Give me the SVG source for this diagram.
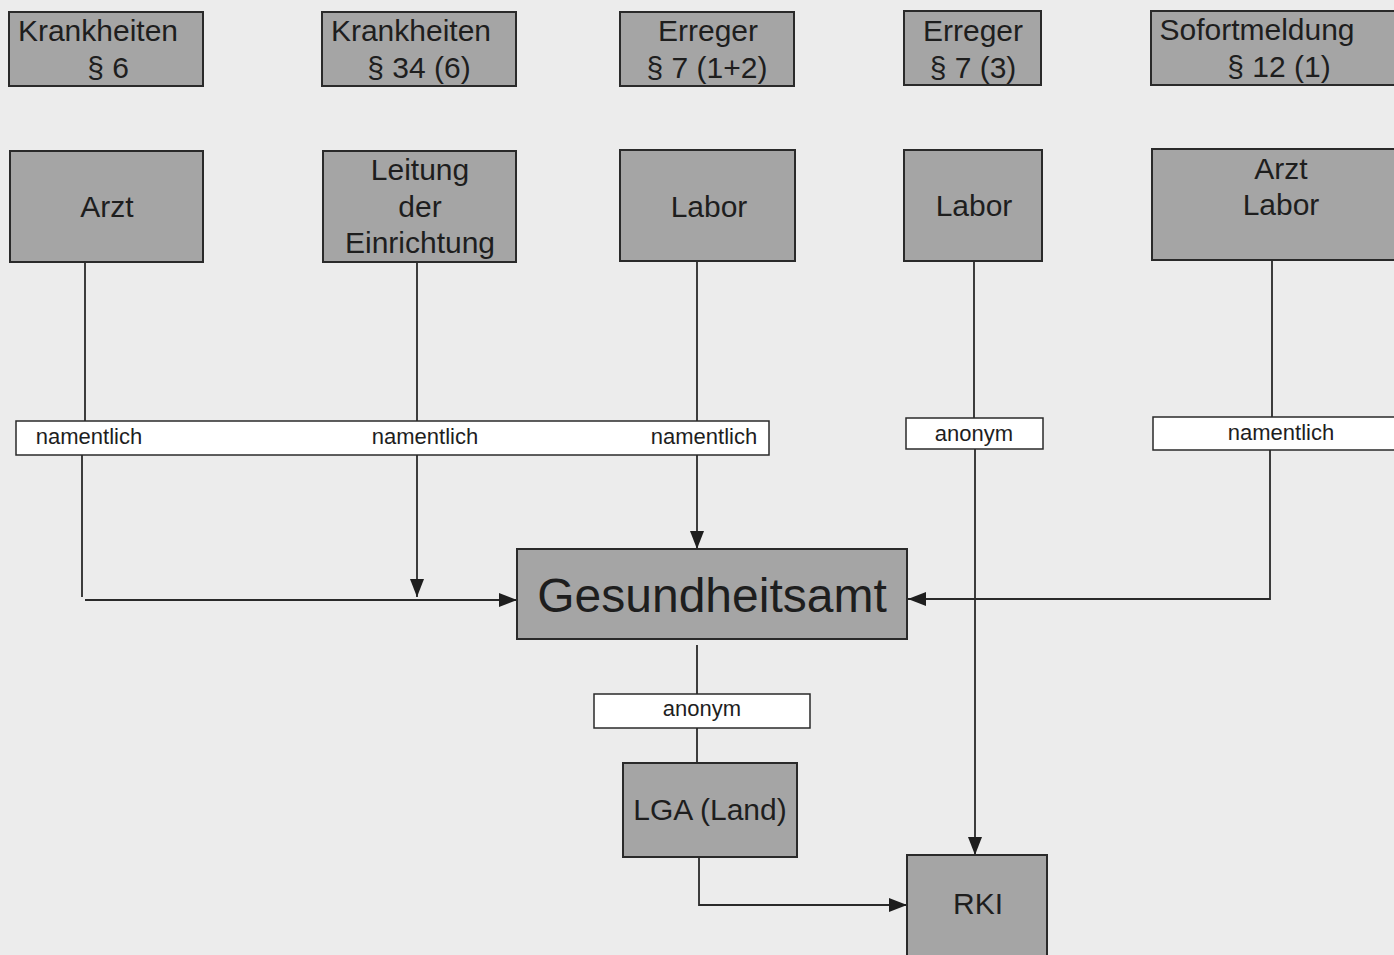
<svg xmlns="http://www.w3.org/2000/svg" width="1394" height="955" viewBox="0 0 1394 955">
<style>
.box{fill:#a5a5a5;stroke:#2a2a2a;stroke-width:2}
.lbl{fill:#ffffff;stroke:#2a2a2a;stroke-width:1.5}
.t{font-family:"Liberation Sans",Arial,sans-serif;font-size:30px;fill:#1e1e1e;text-anchor:middle}
.s{font-family:"Liberation Sans",Arial,sans-serif;font-size:22px;fill:#1e1e1e;text-anchor:middle}
.big{font-family:"Liberation Sans",Arial,sans-serif;font-size:48px;fill:#1e1e1e;text-anchor:middle}
.ln{fill:none;stroke:#2a2a2a;stroke-width:1.8}
</style>
<defs>
<marker id="arr" viewBox="0 0 18 14" refX="18" refY="7" markerWidth="18" markerHeight="14" markerUnits="userSpaceOnUse" orient="auto">
<path d="M0,0 L18,7 L0,14 Z" fill="#1e1e1e"/>
</marker>
</defs>
<rect width="1394" height="955" fill="#ececec"/>

<g id="connectors">
<line class="ln" x1="85" y1="262" x2="85" y2="421"/>
<polyline class="ln" points="82,455 82,597"/>
<line class="ln" x1="85" y1="600" x2="517" y2="600" marker-end="url(#arr)"/>
<line class="ln" x1="417" y1="262" x2="417" y2="421"/>
<line class="ln" x1="417" y1="455" x2="417" y2="597" marker-end="url(#arr)"/>
<line class="ln" x1="697" y1="261" x2="697" y2="421"/>
<line class="ln" x1="697" y1="455" x2="697" y2="549" marker-end="url(#arr)"/>
<line class="ln" x1="974" y1="261" x2="974" y2="418"/>
<line class="ln" x1="975" y1="449" x2="975" y2="855" marker-end="url(#arr)"/>
<line class="ln" x1="1272" y1="260" x2="1272" y2="417"/>
<polyline class="ln" points="1270,450 1270,599 908,599" marker-end="url(#arr)"/>
<line class="ln" x1="697" y1="645" x2="697" y2="694"/>
<line class="ln" x1="697" y1="728" x2="697" y2="763"/>
<polyline class="ln" points="699,857 699,905 907,905" marker-end="url(#arr)"/>
</g>

<g id="krankheiten6"><rect class="box" x="9" y="12" width="194" height="74"/><text class="t" x="98" y="41">Krankheiten</text><text class="t" x="108" y="78">§ 6</text></g>
<g id="krankheiten34"><rect class="box" x="322" y="12" width="194" height="74"/><text class="t" x="411" y="41">Krankheiten</text><text class="t" x="419" y="78">§ 34 (6)</text></g>
<g id="erreger712"><rect class="box" x="620" y="12" width="174" height="74"/><text class="t" x="708" y="41">Erreger</text><text class="t" x="707" y="78">§ 7 (1+2)</text></g>
<g id="erreger73"><rect class="box" x="904" y="11" width="137" height="74"/><text class="t" x="973" y="41">Erreger</text><text class="t" x="973" y="78">§ 7 (3)</text></g>
<g id="sofortmeldung"><rect class="box" x="1151" y="11" width="250" height="74"/><text class="t" x="1257" y="40">Sofortmeldung</text><text class="t" x="1279" y="77">§ 12 (1)</text></g>

<g id="arzt"><rect class="box" x="10" y="151" width="193" height="111"/><text class="t" x="107" y="217">Arzt</text></g>
<g id="leitung"><rect class="box" x="323" y="151" width="193" height="111"/><text class="t" x="420" y="180">Leitung</text><text class="t" x="420" y="217">der</text><text class="t" x="420" y="253">Einrichtung</text></g>
<g id="labor1"><rect class="box" x="620" y="150" width="175" height="111"/><text class="t" x="709" y="217">Labor</text></g>
<g id="labor2"><rect class="box" x="904" y="150" width="138" height="111"/><text class="t" x="974" y="216">Labor</text></g>
<g id="arztlabor"><rect class="box" x="1152" y="149" width="250" height="111"/><text class="t" x="1281" y="179">Arzt</text><text class="t" x="1281" y="215">Labor</text></g>

<g id="label-namentlich"><rect class="lbl" x="16" y="421" width="753" height="34"/><text class="s" x="89" y="444">namentlich</text><text class="s" x="425" y="444">namentlich</text><text class="s" x="704" y="444">namentlich</text></g>
<g id="label-anonym1"><rect class="lbl" x="906" y="418" width="137" height="31"/><text class="s" x="974" y="441">anonym</text></g>
<g id="label-namentlich2"><rect class="lbl" x="1153" y="417" width="250" height="33"/><text class="s" x="1281" y="440">namentlich</text></g>

<g id="gesundheitsamt"><rect class="box" x="517" y="549" width="390" height="90"/><text class="big" x="712" y="612">Gesundheitsamt</text></g>
<g id="label-anonym2"><rect class="lbl" x="594" y="694" width="216" height="34"/><text class="s" x="702" y="716">anonym</text></g>
<g id="lga"><rect class="box" x="623" y="763" width="174" height="94"/><text class="t" x="710" y="820">LGA (Land)</text></g>
<g id="rki"><rect class="box" x="907" y="855" width="140" height="110"/><text class="t" x="978" y="914">RKI</text></g>
</svg>
